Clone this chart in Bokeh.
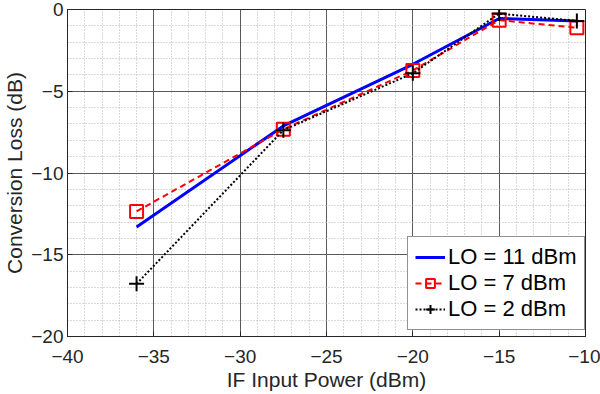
from bokeh.plotting import figure
from bokeh.models import FixedTicker, Legend, LegendItem, Range1d
from bokeh.embed import file_html
from bokeh.resources import INLINE

# Data
if_power = [-36, -27.5, -20, -15, -10.5]
lo_11 = [-13.3, -7.12, -3.35, -0.55, -0.7]
lo_7 = [-12.35, -7.33, -3.73, -0.65, -1.12]
lo_2 = [-16.78, -7.38, -3.9, -0.25, -0.7]

x_ticks = [-40, -35, -30, -25, -20, -15, -10]
y_ticks = [-20, -15, -10, -5, 0]
x_minor = list(range(-40, -9))
y_minor = list(range(-20, 1))

FONT = "Liberation Sans"
DARK = "#262626"

p = figure(width=600, height=394, output_backend="svg", toolbar_location=None,
           x_range=Range1d(-40, -10), y_range=Range1d(-20, 0),
           min_border_left=66, min_border_right=15, min_border_top=9,
           min_border_bottom=58)
p.outline_line_color = DARK
p.outline_line_width = 1
p.background_fill_color = "white"

for ax, ticks, minor in ((p.xaxis[0], x_ticks, x_minor), (p.yaxis[0], y_ticks, y_minor)):
    ax.ticker = FixedTicker(ticks=ticks, minor_ticks=minor)
    ax.major_label_text_font = FONT
    ax.major_label_text_font_size = "19px"
    ax.major_label_text_color = DARK
    ax.axis_label_text_font = FONT
    ax.axis_label_text_font_size = "21px"
    ax.axis_label_text_font_style = "normal"
    ax.axis_label_text_color = DARK
    ax.axis_line_color = DARK
    ax.major_tick_in = 5
    ax.major_tick_out = 0
    ax.minor_tick_in = 0
    ax.minor_tick_out = 0
    ax.major_tick_line_color = DARK

p.xaxis[0].axis_label = "IF Input Power (dBm)"
p.yaxis[0].axis_label = "Conversion Loss (dB)"
p.xaxis[0].major_label_standoff = 13
p.xaxis[0].axis_label_standoff = 2
p.yaxis[0].major_label_standoff = 4
p.yaxis[0].axis_label_standoff = 2

for g in (p.xgrid[0], p.ygrid[0]):
    g.grid_line_color = "#5a5a5a"
    g.grid_line_width = 1
    g.minor_grid_line_color = "#b4b4b4"
    g.minor_grid_line_dash = "1 2"
    g.minor_grid_line_width = 1
p.xgrid[0].ticker = FixedTicker(ticks=x_ticks, minor_ticks=x_minor)
p.ygrid[0].ticker = FixedTicker(ticks=y_ticks, minor_ticks=y_minor)

r11 = p.line(if_power, lo_11, line_color="#0000ff", line_width=3)
r7l = p.line(if_power, lo_7, line_color="#ff0000", line_width=2, line_dash="6 4")
r7m = p.scatter(if_power, lo_7, marker="square", size=13, fill_color=None,
                line_color="#ff0000", line_width=2)
r2l = p.line(if_power, lo_2, line_color="black", line_width=2, line_dash="2 2")
r2m = p.scatter(if_power, lo_2, marker="cross", size=15, line_color="black", line_width=2)

legend = Legend(items=[
    LegendItem(label="LO = 11 dBm", renderers=[r11]),
    LegendItem(label="LO = 7 dBm", renderers=[r7l, r7m]),
    LegendItem(label="LO = 2 dBm", renderers=[r2l, r2m]),
], location=(340, 6))
legend.label_text_font = FONT
legend.label_text_font_size = "22px"
legend.label_text_color = "black"
legend.glyph_width = 30
legend.glyph_height = 22
legend.label_height = 22
legend.label_standoff = 3
legend.spacing = 0
legend.padding = 7
legend.margin = 0
legend.border_line_color = DARK
legend.border_line_width = 1
legend.background_fill_color = "white"
legend.background_fill_alpha = 1
p.add_layout(legend, "center")

open("out.html", "w").write(file_html(p, INLINE))
